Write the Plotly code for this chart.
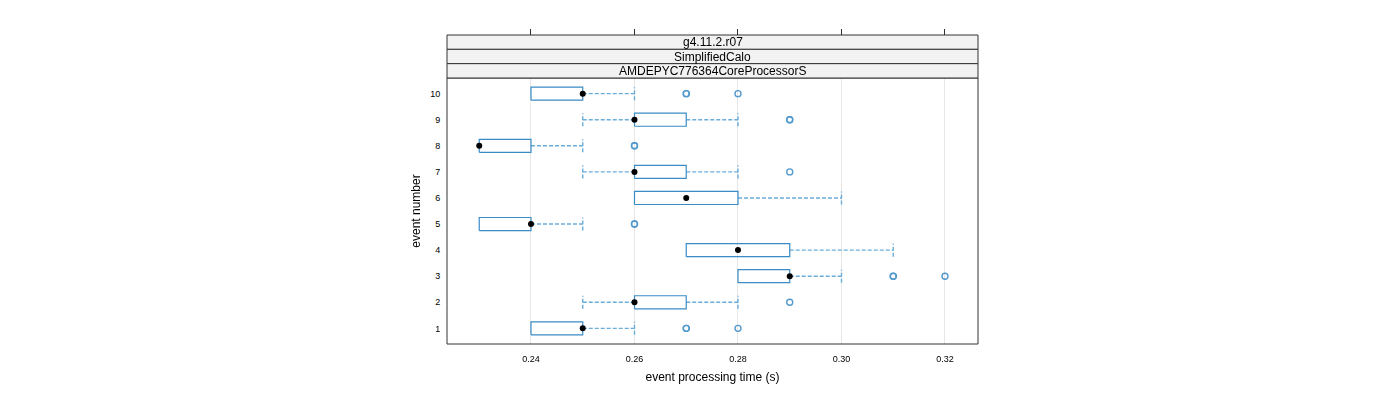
import plotly.graph_objects as go

# event number -> five-number summary
events = [1, 2, 3, 4, 5, 6, 7, 8, 9, 10]
whisk_lo = [0.24, 0.25, 0.28, 0.27, 0.23, 0.26, 0.25, 0.23, 0.25, 0.24]
q1 = [0.24, 0.26, 0.28, 0.27, 0.23, 0.26, 0.26, 0.23, 0.26, 0.24]
median = [0.25, 0.26, 0.29, 0.28, 0.24, 0.27, 0.26, 0.23, 0.26, 0.25]
q3 = [0.25, 0.27, 0.29, 0.29, 0.24, 0.28, 0.27, 0.24, 0.27, 0.25]
whisk_hi = [0.26, 0.28, 0.30, 0.31, 0.25, 0.30, 0.28, 0.25, 0.28, 0.26]
# outliers (repeated values = overplotted points)
outliers = {
    1: [0.27, 0.27, 0.28],
    2: [0.29],
    3: [0.31, 0.31, 0.32],
    4: [],
    5: [0.26, 0.26],
    6: [],
    7: [0.29],
    8: [0.26, 0.26],
    9: [0.29, 0.29],
    10: [0.27, 0.27, 0.28],
}
strips = ["g4.11.2.r07", "SimplifiedCalo", "AMDEPYC776364CoreProcessorS"]
xticks = [0.24, 0.26, 0.28, 0.30, 0.32]

BOX = "#3a8cc6"
WHISK = "#6aaddb"
OUT = "#1a78bd"
H = 0.25  # half box height in category units

bx, by, wx, wy, cx, cy = [], [], [], [], [], []
for i, e in enumerate(events):
    bx += [q1[i], q3[i], q3[i], q1[i], q1[i], None]
    by += [e - H, e - H, e + H, e + H, e - H, None]
    if whisk_lo[i] < q1[i]:
        wx += [whisk_lo[i], q1[i], None]
        wy += [e, e, None]
        cx += [whisk_lo[i], whisk_lo[i], None]
        cy += [e - H, e + H, None]
    if whisk_hi[i] > q3[i]:
        wx += [q3[i], whisk_hi[i], None]
        wy += [e, e, None]
        cx += [whisk_hi[i], whisk_hi[i], None]
        cy += [e - H, e + H, None]

ox = [v for e in events for v in outliers[e]]
oy = [e for e in events for v in outliers[e]]

fig = go.Figure()
fig.add_trace(go.Scatter(x=wx, y=wy, mode="lines",
                         line=dict(color=WHISK, width=1.4, dash="4px,2px")))
fig.add_trace(go.Scatter(x=cx, y=cy, mode="lines",
                         line=dict(color=WHISK, width=1.4, dash="4px,2px")))
fig.add_trace(go.Scatter(x=bx, y=by, mode="lines",
                         line=dict(color=BOX, width=1.2)))
fig.add_trace(go.Scatter(x=median, y=events, mode="markers",
                         marker=dict(color="black", size=6)))
fig.add_trace(go.Scatter(x=ox, y=oy, mode="markers", opacity=0.75,
                         marker=dict(symbol="circle-open", color=OUT, size=6,
                                     line=dict(width=1.4, color=OUT))))
# invisible trace to carry the top tick axis
fig.add_trace(go.Scatter(x=xticks, y=[1] * len(xticks), xaxis="x2", mode="markers",
                         marker=dict(opacity=0), hoverinfo="skip"))

dom = 266 / 309
xr = [0.22377, 0.32638]
fig.update_layout(
    width=1400, height=400, showlegend=False,
    margin=dict(l=439, r=430, t=27, b=64),
    paper_bgcolor="white", plot_bgcolor="white",
    font=dict(family="Liberation Sans, Arial, sans-serif", color="black"),
    xaxis=dict(range=xr, tickvals=xticks, ticktext=[f"{t:.2f}" for t in xticks],
               showgrid=True, gridcolor="#e6e6e6", zeroline=False,
               ticks="outside", ticklen=6, tickcolor="rgba(0,0,0,0)",
               tickfont=dict(size=9), showline=False,
               title=dict(text="event processing time (s)", font=dict(size=12),
                          standoff=9)),
    xaxis2=dict(range=xr, overlaying="x", side="top", anchor="free", position=1,
                tickvals=xticks, showticklabels=False, ticks="outside", ticklen=6,
                tickcolor="#333", showgrid=False, zeroline=False, showline=False),
    yaxis=dict(range=[0.4, 10.6], domain=[0, dom], tickvals=events,
               showgrid=False, zeroline=False, showline=False,
               ticks="outside", ticklen=4, tickcolor="rgba(0,0,0,0)",
               tickfont=dict(size=9),
               title=dict(text="event number", font=dict(size=12), standoff=6)),
)

# panel border
fig.add_shape(type="rect", xref="paper", yref="paper", x0=0, x1=1, y0=0, y1=dom,
              line=dict(color="#333", width=1), layer="above")
# strips
sh = (1 - dom) / len(strips)
for k, label in enumerate(strips):
    y0 = 1 - (k + 1) * sh
    fig.add_shape(type="rect", xref="paper", yref="paper", x0=0, x1=1,
                  y0=y0, y1=y0 + sh, fillcolor="#f2f2f2",
                  line=dict(color="#333", width=1), layer="above")
    fig.add_annotation(xref="paper", yref="paper", x=0.5, y=y0 + sh / 2,
                       text=label, showarrow=False, font=dict(size=12),
                       xanchor="center", yanchor="middle")

fig.write_html("out.html")
